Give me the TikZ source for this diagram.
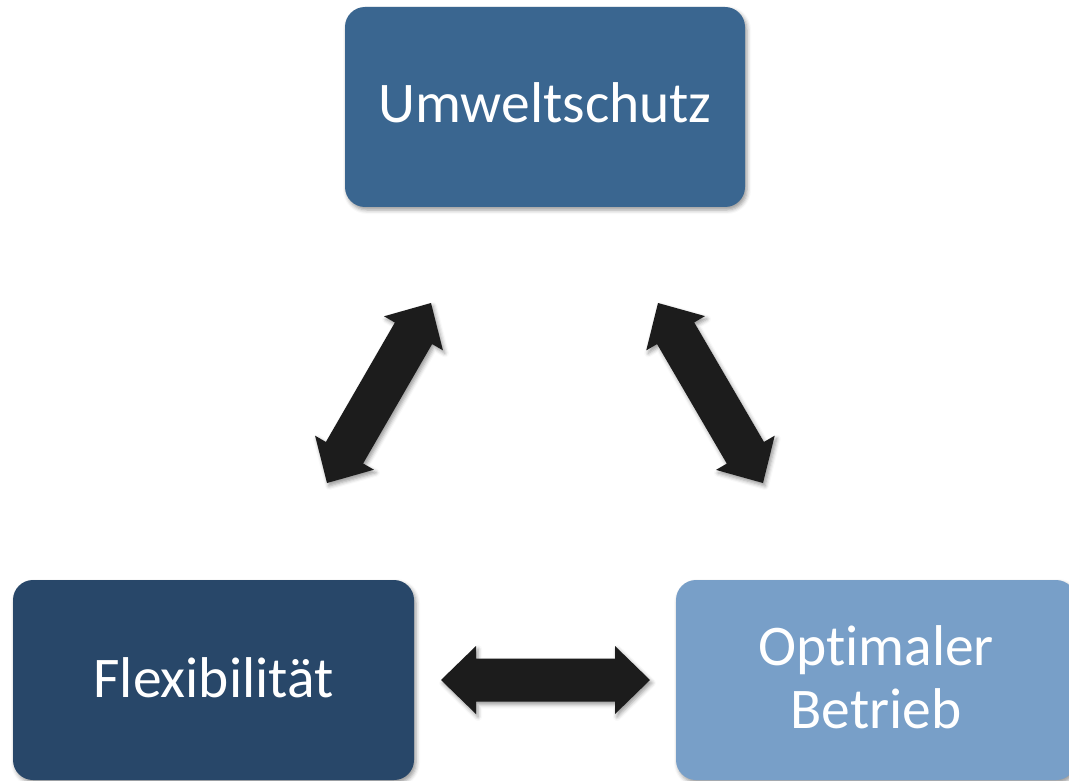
\documentclass[tikz,border=0pt]{standalone}
\usepackage{fontspec}
\setmainfont{Carlito}[Ligatures={NoCommon}]
\usetikzlibrary{calc,shadows.blur}
\definecolor{umwcol}{HTML}{3A6690}
\definecolor{flexcol}{HTML}{284769}
\definecolor{optcol}{HTML}{789FC8}
\definecolor{arrcol}{HTML}{1C1C1C}
\newcommand\blkarrow[2]{%
  \path ($(#1)!35pt!(#2)$) coordinate (#1h) ($(#2)!35pt!(#1)$) coordinate (#2h);
  \fill[arrowfill] (#1) -- ($(#1h)!34pt!90:(#2)$) -- ($(#1h)!21.5pt!90:(#2)$)
    -- ($(#2h)!21.5pt!-90:(#1)$) -- ($(#2h)!34pt!-90:(#1)$) -- (#2)
    -- ($(#2h)!34pt!90:(#1)$) -- ($(#2h)!21.5pt!90:(#1)$)
    -- ($(#1h)!21.5pt!-90:(#2)$) -- ($(#1h)!34pt!-90:(#2)$) -- cycle;
}
\begin{document}
\begin{tikzpicture}[x=1pt,y=-1pt,
  softshadow/.style={blur shadow={shadow xshift=2pt,shadow yshift=-3pt,shadow blur radius=4pt,shadow opacity=40}},
  box/.style={rectangle,rounded corners=20pt,minimum width=400pt,minimum height=200pt,inner sep=0pt,draw=none,softshadow},
  lbl/.style={text=white,font=\fontsize{57.5}{63}\selectfont,anchor=base,align=center,inner sep=0pt},
  arrowfill/.style={fill=arrcol,softshadow}]
\useasboundingbox (0,0) rectangle (1069,781);
\node[box,fill=umwcol] (umw) at (545,107) {};
\node[box,fill=flexcol,minimum width=401pt] (flex) at (213.5,680) {};
\node[box,fill=optcol] (opt) at (876,680) {};
\node[lbl] (umwt) at ([yshift=-16pt]umw.center) {Umweltschutz};
\node[lbl] (flext) at ([yshift=-17pt]flex.center) {Flexibilität};
\node[lbl] (optt) at ([yshift=-48pt]opt.center) {Optimaler\\Betrieb};
\coordinate (la) at (327,483);
\coordinate (lb) at (431,303);
\coordinate (ra) at (658,303);
\coordinate (rb) at (763,483);
\coordinate (ha) at (441,680);
\coordinate (hb) at (650,680);
\blkarrow{la}{lb}
\blkarrow{ra}{rb}
\blkarrow{ha}{hb}
\end{tikzpicture}
\end{document}
